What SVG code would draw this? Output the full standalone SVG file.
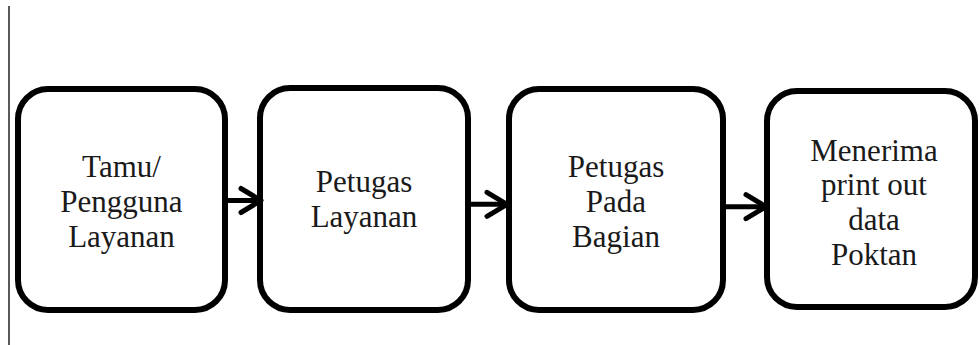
<svg xmlns="http://www.w3.org/2000/svg" width="979" height="345" viewBox="0 0 979 345">
  <style>
    .box { fill: #ffffff; stroke: #000000; stroke-width: 6; }
    .lbl { font-family: "Liberation Serif", "DejaVu Serif", serif; font-size: 31px; fill: #1a1a1a; text-anchor: middle; }
    .conn { stroke: #000000; stroke-width: 5; fill: none; }
  </style>
  <defs>
    <marker id="arrow" markerUnits="userSpaceOnUse" markerWidth="30" markerHeight="30" viewBox="0 0 30 30" refX="26" refY="15" orient="auto" overflow="visible">
      <path d="M 6 3 L 26 15 L 6 27" fill="none" stroke="#000000" stroke-width="5" stroke-linejoin="round" stroke-linecap="round"/>
    </marker>
  </defs>
  <rect x="0" y="0" width="979" height="345" fill="#ffffff"/>
  <line x1="9" y1="6" x2="9" y2="345" stroke="#5a5a5a" stroke-width="2"/>

  <g id="node-tamu">
    <rect class="box" x="18" y="89" width="207" height="221" rx="30" ry="30"/>
    <text class="lbl" x="121.5" y="177">Tamu/</text>
    <text class="lbl" x="121.5" y="212">Pengguna</text>
    <text class="lbl" x="121.5" y="247">Layanan</text>
  </g>

  <g id="node-petugas-layanan">
    <rect class="box" x="260" y="88" width="208" height="222" rx="30" ry="30"/>
    <text class="lbl" x="364" y="192">Petugas</text>
    <text class="lbl" x="364" y="227">Layanan</text>
  </g>

  <g id="node-petugas-bagian">
    <rect class="box" x="509" y="89" width="214" height="221" rx="30" ry="30"/>
    <text class="lbl" x="616" y="177">Petugas</text>
    <text class="lbl" x="616" y="212">Pada</text>
    <text class="lbl" x="616" y="247">Bagian</text>
  </g>

  <g id="node-menerima">
    <rect class="box" x="767" y="91" width="208" height="216" rx="30" ry="30"/>
    <text class="lbl" x="874" y="161">Menerima</text>
    <text class="lbl" x="874" y="195">print out</text>
    <text class="lbl" x="874" y="230">data</text>
    <text class="lbl" x="874" y="265">Poktan</text>
  </g>

  <g id="connectors">
    <line class="conn" x1="228" y1="200.5" x2="261" y2="200.5" marker-end="url(#arrow)"/>
    <line class="conn" x1="471" y1="204.3" x2="507" y2="204.3" marker-end="url(#arrow)"/>
    <line class="conn" x1="726" y1="206.7" x2="766" y2="206.7" marker-end="url(#arrow)"/>
  </g>
</svg>
